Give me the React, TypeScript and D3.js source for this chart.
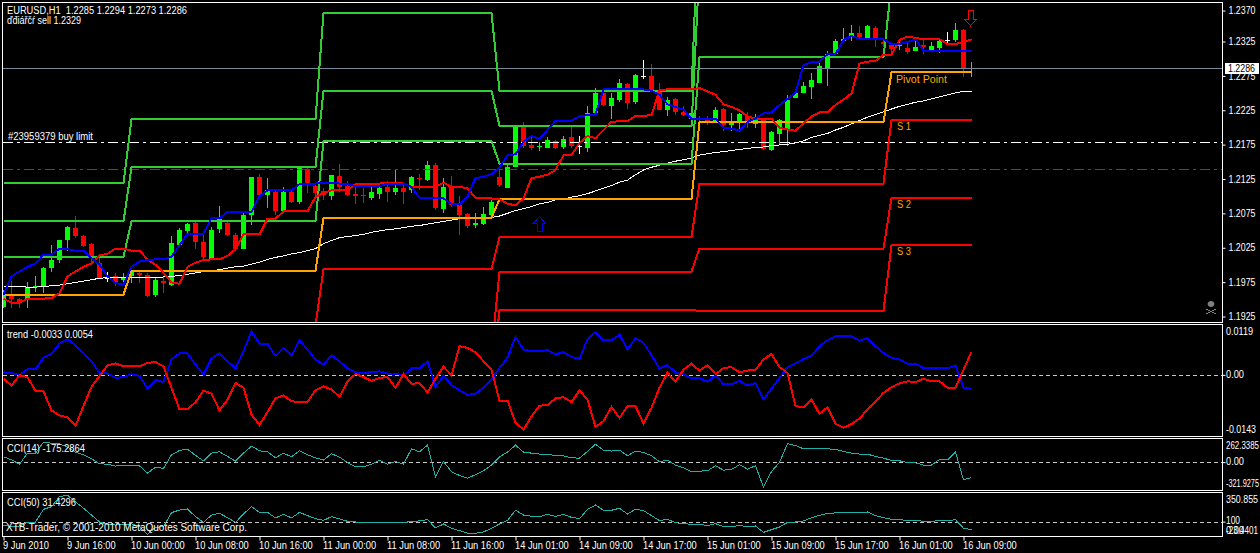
import React, { useEffect, useRef } from "react";
import * as d3 from "d3";

// EURUSD H1, bars
const open = [
  1.1933, 1.1949, 1.1945, 1.1943, 1.1962, 1.1964, 1.199, 1.2002, 1.2032, 1.205,
  1.2038, 1.2026, 1.1997, 1.1976, 1.1979, 1.1972, 1.1978, 1.1983, 1.198, 1.1951,
  1.1971, 1.1965, 1.2024, 1.2045, 1.2056, 1.2029, 1.2003, 1.2048, 1.2057, 1.2039,
  1.2019, 1.2069, 1.2124, 1.2098, 1.2103, 1.2075, 1.2103, 1.2088, 1.2136, 1.2112,
  1.2104, 1.2096, 1.2126, 1.2112, 1.21, 1.2098, 1.2094, 1.21, 1.211, 1.2103,
  1.2108, 1.2105, 1.2123, 1.212, 1.2142, 1.2077, 1.2111, 1.2083, 1.207, 1.2054,
  1.2055, 1.2069, 1.2124, 1.2109, 1.214, 1.2199, 1.2172, 1.2169, 1.2168, 1.2178,
  1.2169, 1.2183, 1.2171, 1.2167, 1.2219, 1.2248, 1.223, 1.2239, 1.2262, 1.2236,
  1.2274, 1.2274, 1.2252, 1.2224, 1.224, 1.2221, 1.221, 1.2211, 1.221, 1.2208,
  1.2225, 1.2201, 1.2206, 1.2215, 1.2203, 1.221, 1.2165, 1.2188, 1.2195, 1.2241,
  1.2248, 1.2258, 1.2264, 1.2285, 1.2307, 1.2326, 1.2333, 1.2338, 1.2329, 1.2345,
  1.2324, 1.2319, 1.2319, 1.2315, 1.2311, 1.232, 1.2312, 1.2315, 1.2327, 1.2327,
  1.2342, 1.2285,
];
const high = [
  1.1958, 1.1971, 1.1946, 1.197, 1.1978, 1.1992, 1.2024, 1.2032, 1.2052, 1.2067,
  1.2039, 1.2027, 1.2007, 1.1985, 1.1983, 1.1983, 1.1987, 1.1984, 1.1983, 1.1975,
  1.1978, 1.2037, 1.2049, 1.2056, 1.2061, 1.2042, 1.2051, 1.2082, 1.2061, 1.2042,
  1.2071, 1.2125, 1.2129, 1.2123, 1.2106, 1.211, 1.2106, 1.2138, 1.2138, 1.2113,
  1.2108, 1.2128, 1.2144, 1.2118, 1.211, 1.2108, 1.211, 1.2113, 1.2118, 1.2136,
  1.2115, 1.2126, 1.2129, 1.2148, 1.2146, 1.2123, 1.2126, 1.2096, 1.2071, 1.2071,
  1.2081, 1.2091, 1.2136, 1.2146, 1.22, 1.2206, 1.2184, 1.2177, 1.2184, 1.2179,
  1.2185, 1.2199, 1.2185, 1.2229, 1.2256, 1.2249, 1.2248, 1.227, 1.2263, 1.2277,
  1.2297, 1.2291, 1.2263, 1.2243, 1.2242, 1.2229, 1.2226, 1.2214, 1.2214, 1.2228,
  1.2226, 1.2219, 1.2219, 1.2221, 1.2218, 1.2211, 1.2192, 1.2211, 1.2246, 1.2251,
  1.2265, 1.2278, 1.2295, 1.231, 1.2329, 1.2344, 1.2349, 1.2347, 1.2349, 1.2347,
  1.2327, 1.2322, 1.2327, 1.2322, 1.2329, 1.2327, 1.2324, 1.2328, 1.2339, 1.2352,
  1.2343, 1.2294,
];
const low = [
  1.1931, 1.1931, 1.1931, 1.1931, 1.1955, 1.1953, 1.1985, 1.1997, 1.2015, 1.2034,
  1.2022, 1.1997, 1.1975, 1.197, 1.1963, 1.1968, 1.1968, 1.1968, 1.1948, 1.1948,
  1.1953, 1.1963, 1.2022, 1.2042, 1.2019, 1.2002, 1.2002, 1.2042, 1.2037, 1.2015,
  1.2018, 1.2054, 1.2096, 1.2079, 1.2069, 1.2071, 1.2086, 1.2085, 1.2101, 1.2096,
  1.2091, 1.2091, 1.2103, 1.2096, 1.2085, 1.2086, 1.2091, 1.2092, 1.2088, 1.2098,
  1.2085, 1.2101, 1.2105, 1.2118, 1.2076, 1.2071, 1.2081, 1.2039, 1.2049, 1.2049,
  1.2054, 1.2066, 1.211, 1.2108, 1.214, 1.2167, 1.2165, 1.2163, 1.2167, 1.2166,
  1.2166, 1.2167, 1.2159, 1.2161, 1.2216, 1.223, 1.2211, 1.2236, 1.2225, 1.2233,
  1.227, 1.2253, 1.2223, 1.2214, 1.2216, 1.2214, 1.2199, 1.2204, 1.2201, 1.2204,
  1.2192, 1.2193, 1.2192, 1.2197, 1.2197, 1.2165, 1.2163, 1.2174, 1.217, 1.2241,
  1.2248, 1.224, 1.2263, 1.2259, 1.2306, 1.2324, 1.2326, 1.2328, 1.2328, 1.2317,
  1.2317, 1.2305, 1.2312, 1.2307, 1.231, 1.2307, 1.231, 1.2308, 1.2322, 1.2324,
  1.2272, 1.2273,
];
const close = [
  1.1952, 1.1945, 1.1939, 1.1962, 1.1963, 1.199, 1.2002, 1.2032, 1.2051, 1.2037,
  1.2023, 1.2007, 1.1976, 1.1976, 1.197, 1.1976, 1.1985, 1.198, 1.1949, 1.1973,
  1.1968, 1.2027, 1.2047, 1.2055, 1.2029, 1.2006, 1.2047, 1.2062, 1.2039, 1.2019,
  1.2069, 1.2124, 1.2098, 1.2106, 1.2075, 1.2103, 1.2088, 1.2138, 1.2116, 1.2101,
  1.2098, 1.2128, 1.211, 1.2098, 1.2096, 1.2096, 1.2103, 1.2109, 1.2102, 1.2109,
  1.2103, 1.2124, 1.2122, 1.2142, 1.2079, 1.211, 1.2083, 1.2069, 1.2052, 1.2057,
  1.207, 1.2088, 1.2113, 1.214, 1.22, 1.2171, 1.2168, 1.2171, 1.2179, 1.2168,
  1.2181, 1.2171, 1.2171, 1.2219, 1.2248, 1.2231, 1.2242, 1.2263, 1.2234, 1.2275,
  1.2274, 1.2253, 1.2224, 1.2239, 1.2221, 1.2216, 1.2219, 1.221, 1.2208, 1.2224,
  1.2201, 1.2206, 1.2218, 1.2208, 1.221, 1.2166, 1.2191, 1.2209, 1.2239, 1.2249,
  1.2259, 1.2268, 1.2289, 1.2307, 1.2326, 1.2329, 1.2338, 1.2331, 1.2347, 1.233,
  1.2321, 1.2314, 1.232, 1.2309, 1.2316, 1.2316, 1.2318, 1.2325, 1.2327, 1.2342,
  1.2285, 1.2286,
];

const fastBlue = [
  1.1951, 1.1978, 1.1985, 1.1992, 1.1997, 1.201, 1.201, 1.2019, 1.2018, 1.2016,
  1.2016, 1.2005, 1.1995, 1.1978, 1.1968, 1.1966, 1.1992, 1.2, 1.2002, 1.2003,
  1.2003, 1.2007, 1.2024, 1.2041, 1.2041, 1.2041, 1.2064, 1.2064, 1.2073, 1.2073,
  1.2073, 1.2073, 1.2096, 1.2105, 1.2105, 1.2105, 1.2105, 1.2114, 1.2115, 1.2115,
  1.2116, 1.2116, 1.2115, 1.2114, 1.2111, 1.2111, 1.2111, 1.2111, 1.2115, 1.2115,
  1.2115, 1.211, 1.2094, 1.2094, 1.2093, 1.2093, 1.2085, 1.2084, 1.2096, 1.2123,
  1.2125, 1.2129, 1.2138, 1.2157, 1.2158, 1.2177, 1.2185, 1.2181, 1.2194, 1.2208,
  1.2208, 1.2208, 1.2214, 1.2216, 1.2217, 1.2254, 1.2254, 1.2254, 1.2254, 1.2254,
  1.2254, 1.2252, 1.2246, 1.2232, 1.2228, 1.2224, 1.2211, 1.2211, 1.2211, 1.2211,
  1.2197, 1.2196, 1.2193, 1.2206, 1.2211, 1.2219, 1.222, 1.2231, 1.224, 1.2249,
  1.229, 1.2294, 1.2295, 1.2306, 1.2306, 1.2327, 1.2333, 1.2329, 1.2328, 1.2328,
  1.2328, 1.2321, 1.2321, 1.2324, 1.2328, 1.2311, 1.2311, 1.2311, 1.2311, 1.2311,
  1.2311, 1.2311,
];
const slowRed = [
  1.1945, 1.1939, 1.1939, 1.1945, 1.1945, 1.1945, 1.1946, 1.1953, 1.1978, 1.1985,
  1.1992, 1.1997, 1.2009, 1.2011, 1.2019, 1.2019, 1.2016, 1.2016, 1.2003, 1.1995,
  1.1983, 1.1969, 1.1967, 1.1992, 1.1998, 1.2002, 1.2003, 1.2003, 1.2008, 1.2018,
  1.204, 1.204, 1.204, 1.2063, 1.2063, 1.2074, 1.2074, 1.2074, 1.2074, 1.2095,
  1.2101, 1.2105, 1.2105, 1.2105, 1.2114, 1.2115, 1.2115, 1.2115, 1.2116, 1.2116,
  1.2115, 1.211, 1.211, 1.211, 1.211, 1.2116, 1.211, 1.211, 1.2108, 1.2094,
  1.2093, 1.2093, 1.2092, 1.2085, 1.2083, 1.2093, 1.2123, 1.2125, 1.2128, 1.2135,
  1.2157, 1.2157, 1.2175, 1.2185, 1.2182, 1.2194, 1.2206, 1.2207, 1.2207, 1.2215,
  1.2215, 1.2216, 1.2253, 1.2254, 1.2254, 1.2254, 1.2254, 1.2256, 1.2251, 1.2246,
  1.2232, 1.2228, 1.2223, 1.2214, 1.2211, 1.2211, 1.2211, 1.2197, 1.2195, 1.2193,
  1.2204, 1.2214, 1.222, 1.222, 1.2231, 1.2239, 1.2248, 1.2292, 1.2295, 1.2296,
  1.2305, 1.2305, 1.2327, 1.2332, 1.233, 1.2328, 1.2328, 1.2328, 1.2321, 1.2321,
  1.2324, 1.2328,
];
const maWhite = [
  1.1963, 1.1963, 1.1963, 1.1962, 1.1962, 1.1963, 1.1964, 1.1965, 1.1967, 1.1969,
  1.1971, 1.1973, 1.1975, 1.1976, 1.1976, 1.1976, 1.1976, 1.1976, 1.1976, 1.1976,
  1.1977, 1.1978, 1.1979, 1.1981, 1.1983, 1.1985, 1.1986, 1.1988, 1.199, 1.1992,
  1.1993, 1.1996, 1.1999, 1.2003, 1.2006, 1.2008, 1.2011, 1.2013, 1.2016, 1.2019,
  1.2026, 1.2031, 1.2035, 1.2037, 1.2038, 1.204, 1.2043, 1.2045, 1.2047, 1.2048,
  1.205, 1.2052, 1.2053, 1.2055, 1.2057, 1.2059, 1.2061, 1.2063, 1.2064, 1.2064,
  1.2064, 1.2065, 1.2067, 1.2071, 1.2075, 1.2078, 1.2081, 1.2085, 1.2087, 1.2091,
  1.2092, 1.2095, 1.2097, 1.21, 1.2104, 1.2108, 1.2112, 1.2117, 1.212, 1.2128,
  1.2135, 1.2139, 1.2142, 1.2145, 1.2148, 1.215, 1.2153, 1.2157, 1.2159, 1.2161,
  1.2162, 1.2164, 1.2165, 1.2167, 1.2168, 1.2169, 1.2171, 1.2172, 1.2173, 1.2175,
  1.2178, 1.2183, 1.2186, 1.2189, 1.2194, 1.2198, 1.2203, 1.2208, 1.2213, 1.2217,
  1.2221, 1.2225, 1.2229, 1.2232, 1.2235, 1.2237, 1.224, 1.2243, 1.2246, 1.2249,
  1.2251, 1.2251,
];

// daily pivot levels, one value per period
const periodStart = [0, 16, 40, 62, 87, 111];
const periodEnd = [15, 39, 61, 86, 110, 121];
const r3 = [1.2116, 1.221, 1.2367, 1.2252, 1.254, 1.27];
const r2 = [1.2059, 1.2139, 1.2252, 1.22, 1.2435, 1.26];
const r1 = [1.2007, 1.2059, 1.2178, 1.2144, 1.2302, 1.2409];
const pivot = [1.1951, 1.1986, 1.2064, 1.2092, 1.2206, 1.2279];
const s1 = [1.185, 1.1906, 1.1989, 1.2036, 1.2115, 1.2209];
const s2 = [1.179, 1.186, 1.1866, 1.1985, 1.2019, 1.2094];
const s3 = [1.174, 1.181, 1.1816, 1.1928, 1.1927, 1.2024];

const trendBlue = [
  0.0006, 0.0004, 0, 0.0013, 0.0013, 0.004, 0.0049, 0.0073, 0.0083, 0.0069,
  0.0051, 0.0032, 0.0005, 0.0003, -0.0007, -0.0005, 0.0001, -0.0002, -0.0032, -0.0012,
  -0.0017, 0.0036, 0.005, 0.005, 0.0024, 0.0001, 0.0038, 0.0051, 0.0032, 0.0015,
  0.0055, 0.0102, 0.0073, 0.0073, 0.0044, 0.0063, 0.0045, 0.0081, 0.0059, 0.0036,
  0.0024, 0.0046, 0.0032, 0.0015, 0.0006, 0.0003, 0.0007, 0.0008, 0.0003, 0.0003,
  -0.0002, 0.0015, 0.0015, 0.0032, -0.0028, -0.0002, -0.0024, -0.0036, -0.0047, -0.0044,
  -0.003, -0.0011, 0.0016, 0.004, 0.0089, 0.0059, 0.0055, 0.0055, 0.0058, 0.0048,
  0.0053, 0.0042, 0.0038, 0.0083, 0.01, 0.0081, 0.0081, 0.0094, 0.0059, 0.0086,
  0.0075, 0.0046, 0.0015, 0.0023, 0.0005, 0.0001, -0.0008, -0.0008, -0.0016, -0.0001,
  -0.0022, -0.0022, -0.0014, -0.0025, -0.0019, -0.0058, -0.0032, -0.0007, 0.0018, 0.0027,
  0.0037, 0.0045, 0.0067, 0.0081, 0.009, 0.009, 0.009, 0.008, 0.0086, 0.0067,
  0.0051, 0.004, 0.0036, 0.0026, 0.0026, 0.0016, 0.0015, 0.0016, 0.0015, 0.0022,
  -0.003, -0.0033,
];
const trendRed = [
  -0.0009, -0.0025, -0.0001, -0.0005, -0.0038, -0.0038, -0.0083, -0.0095, -0.0099, -0.0119,
  -0.0073, -0.0028, -0.0003, 0.0022, 0.0027, 0.002, 0.002, 0.002, 0.0028, 0.003,
  0.002, -0.003, -0.0081, -0.0081, -0.0064, -0.0037, -0.0044, -0.0083, -0.0058, -0.0019,
  -0.003, -0.0093, -0.0117, -0.0087, -0.0055, -0.0048, -0.0062, -0.0063, -0.0063, -0.0036,
  -0.0027, -0.0034, -0.0051, -0.0016, 0.0002, -0.0005, -0.0014, -0.0007, -0.0005, -0.003,
  0.0002, -0.0021, -0.0019, -0.0041, -0.0009, 0.0019, -0.0001, 0.0067, 0.0063, 0.0053,
  0.0032, 0.0012, -0.006, -0.006, -0.0112, -0.0128, -0.0097, -0.0072, -0.0071, -0.0055,
  -0.0052, -0.0064, -0.0036, -0.0058, -0.0122, -0.0108, -0.0075, -0.0101, -0.0073, -0.0073,
  -0.0114, -0.0077, -0.003, 0.0005, -0.0016, 0.0012, 0.0026, 0.001, 0.0023, 0.0002,
  0.0016, 0.0018, 0.0006, 0.001, 0.0012, 0.0036, 0.0049, 0.0018, 0.0005, -0.0073,
  -0.0076, -0.0058, -0.0091, -0.0076, -0.0114, -0.0124, -0.0115, -0.0102, -0.0081, -0.0062,
  -0.0042, -0.0029, -0.002, -0.0015, -0.0017, -0.0009, -0.0015, -0.0015, -0.003, -0.003,
  0.0012, 0.0054,
];
const cci14 = [
  60, 26, -23, 102, 102, 227, 215, 208, 170, 113,
  83, 38, -19, -23, -45, -34, -34, -42, -125, -57,
  -72, 83, 132, 147, 76, 15, 102, 117, 64, 11,
  102, 181, 129, 117, 49, 102, 60, 129, 83, 49,
  23, 95, 57, -4, -53, -53, -23, 19, -23, 8,
  -23, 151, 117, 193, -163, 8, -110, -151, -181, -144,
  -98, -34, 60, 113, 193, 113, 102, 91, 91, 72,
  72, 49, 45, 121, 204, 136, 125, 136, 72, 125,
  110, 72, 4, 23, -34, -64, -110, -102, -98, -42,
  -91, -83, -30, -79, -42, -284, -106, -4, 208, 189,
  151, 159, 155, 151, 144, 121, 102, 91, 91, 64,
  45, 19, 15, -4, -8, -34, -34, 30, 26, 113,
  -200, -175.29,
];
const cci50 = [
  71, 57, 63, 97, 97, 206, 229, 315, 327, 272,
  215, 157, 97, 77, 71, 77, 80, 57, -9, 51,
  57, 177, 200, 209, 143, 94, 157, 172, 134, 94,
  166, 229, 180, 180, 132, 163, 132, 180, 152, 126,
  111, 143, 123, 103, 97, 94, 97, 97, 91, 94,
  91, 103, 106, 117, 46, 80, 43, 23, 0, 0,
  11, 43, 80, 111, 198, 157, 146, 143, 163, 146,
  163, 137, 126, 206, 243, 198, 198, 215, 166, 206,
  195, 152, 109, 120, 91, 83, 77, 77, 66, 83,
  57, 57, 68, 54, 63, 8, 31, 54, 94, 97,
  106, 134, 154, 172, 175, 175, 183, 177, 183, 152,
  134, 120, 117, 111, 111, 103, 103, 109, 109, 117,
  43, 31.43,
];

const priceTicks = [1.237, 1.2325, 1.2275, 1.2225, 1.2175, 1.2125, 1.2075, 1.2025, 1.1975, 1.1925];
const timeTickBars = [0, 8, 16, 24, 32, 40, 48, 56, 64, 72, 80, 88, 96, 104, 112, 120];
const timeTickLabels = [
  "9 Jun 2010", "9 Jun 16:00", "10 Jun 00:00", "10 Jun 08:00", "10 Jun 16:00", "11 Jun 00:00",
  "11 Jun 08:00", "11 Jun 16:00", "14 Jun 01:00", "14 Jun 09:00", "14 Jun 17:00", "15 Jun 01:00",
  "15 Jun 09:00", "15 Jun 17:00", "16 Jun 01:00", "16 Jun 09:00",
];
const lastPrice = 1.2286;
const buyLimit = 1.2179;
const sellLevel = 1.214;

const FONT = "'Liberation Sans', sans-serif";
const GREEN_LEVEL = "#32cd32";
const CANDLE_UP = "#00ff00";
const CANDLE_DOWN = "#ff0000";
const CCI_COLOR = "#20b2aa";

const App: React.FC = () => {
  const svgRef = useRef<SVGSVGElement | null>(null);

  useEffect(() => {
    const svg = d3.select(svgRef.current);
    svg.selectAll("*").remove();

    const x = d3.scaleLinear().domain([0, 121]).range([3.5, 971.5]);
    const y = d3.scaleLinear().domain([1.2386, 1.1912]).range([0, 321]);
    // the labels on the price axis are spaced a little wider than the bars read
    const yAxis = d3.scaleLinear().domain([1.2325, 1.1925]).range([41.5, 316.5]);
    const yTrend = d3.scaleLinear().domain([0.0119, -0.0143]).range([324, 436]);
    const yCci14 = d3.scaleLinear().domain([262.34, -321.93]).range([439, 490.5]);
    const yCci50 = d3.scaleLinear().domain([350.855, -23.44]).range([492.5, 536]);

    // the terminal's bitmap font is narrower than Liberation, so squeeze to its width
    const text = (
      str: string,
      tx: number,
      ty: number,
      width: number,
      fill = "#fff"
    ) =>
      svg
        .append("text")
        .attr("x", tx)
        .attr("y", ty)
        .attr("fill", fill)
        .attr("font-size", 10)
        .attr("font-family", FONT)
        .attr("textLength", width)
        .attr("lengthAdjust", "spacingAndGlyphs")
        .style("white-space", "pre")
        .text(str);

    const clip = (id: string, top: number, bottom: number) =>
      svg
        .append("clipPath")
        .attr("id", id)
        .append("rect")
        .attr("x", 3)
        .attr("y", top)
        .attr("width", 1219)
        .attr("height", bottom - top);

    clip("main-clip", 3, 322);
    clip("trend-clip", 324, 436);
    clip("cci14-clip", 438, 490);
    clip("cci50-clip", 492, 536);

    // ---------- Candles ----------
    const main = svg.append("g").attr("clip-path", "url(#main-clip)");
    const bars = d3.range(open.length);
    const barColor = (i: number) =>
      close[i] === open[i] ? "#fff" : close[i] > open[i] ? CANDLE_UP : CANDLE_DOWN;

    main
      .selectAll("line.wick")
      .data(bars)
      .enter()
      .append("line")
      .attr("x1", (i) => x(i))
      .attr("x2", (i) => x(i))
      .attr("y1", (i) => y(high[i]))
      .attr("y2", (i) => y(low[i]))
      .attr("stroke", barColor)
      .attr("stroke-width", 1)
      .attr("shape-rendering", "crispEdges");

    main
      .selectAll("rect.body")
      .data(bars)
      .enter()
      .append("rect")
      .attr("x", (i) => x(i) - 2.5)
      .attr("width", 5)
      .attr("y", (i) => y(Math.max(open[i], close[i])))
      .attr("height", (i) => Math.max(1, Math.abs(y(open[i]) - y(close[i]))))
      .attr("fill", barColor)
      .attr("shape-rendering", "crispEdges");

    // ---------- Order lines ----------
    const hLine = (lineY: number, color: string, dash?: string) =>
      main
        .append("line")
        .attr("x1", 3)
        .attr("x2", 1222)
        .attr("y1", Math.round(lineY) + 0.5)
        .attr("y2", Math.round(lineY) + 0.5)
        .attr("stroke", color)
        .attr("stroke-dasharray", dash ?? null)
        .attr("shape-rendering", "crispEdges");

    hLine(yAxis(sellLevel), "#ff0000", "10,4,3,4");
    hLine(yAxis(buyLimit), "#ffffff", "10,4,3,4");
    hLine(yAxis(lastPrice), "#778899");

    // ---------- Overlays ----------
    const seriesLine = (scale: d3.ScaleLinear<number, number>) =>
      d3
        .line<number>()
        .x((_, i) => x(i))
        .y((d) => scale(d));

    const drawSeries = (
      parent: d3.Selection<any, unknown, null, undefined>,
      values: number[],
      scale: d3.ScaleLinear<number, number>,
      color: string,
      width: number
    ) =>
      parent
        .append("path")
        .attr("d", seriesLine(scale)(values))
        .attr("fill", "none")
        .attr("stroke", color)
        .attr("stroke-width", width)
        .attr("shape-rendering", "crispEdges");

    // the moving average runs under the pivot levels
    drawSeries(main, maWhite, y, "#ffffff", 1);

    // ---------- Pivot levels ----------
    const levelLine = d3
      .line<[number, number]>()
      .x((d) => x(d[0]))
      .y((d) => y(d[1]));

    const drawLevel = (values: number[], color: string) => {
      const points: [number, number][] = [];
      values.forEach((v, k) => {
        points.push([periodStart[k], v]);
        points.push([periodEnd[k], v]);
      });
      main
        .append("path")
        .attr("d", levelLine(points))
        .attr("fill", "none")
        .attr("stroke", color)
        .attr("stroke-width", 2)
        .attr("shape-rendering", "crispEdges");
    };

    [r3, r2, r1].forEach((v) => drawLevel(v, GREEN_LEVEL));
    drawLevel(pivot, "#ffa500");
    [s1, s2, s3].forEach((v) => drawLevel(v, "#ff0000"));

    drawSeries(main, slowRed, y, "#ff0000", 2);
    drawSeries(main, fastBlue, y, "#0000ff", 2);

    // signal arrows, sitting on their bar and price
    const arrowUp = "M-2.5,7.5 V-1 H-6 L0,-7.5 L6,-1 H2.5 V7.5 Z";
    main
      .append("path")
      .attr("d", arrowUp)
      .attr("transform", `translate(${x(67)},${y(1.2055)})`)
      .attr("fill", "none")
      .attr("stroke", "#0000ff")
      .attr("shape-rendering", "crispEdges");
    main
      .append("path")
      .attr("d", arrowUp)
      .attr("transform", `translate(${x(121) - 1},${y(1.2359)}) rotate(180)`)
      .attr("fill", "none")
      .attr("stroke", "#ff0000")
      .attr("shape-rendering", "crispEdges");

    // skull marker
    const skull = main.append("g").attr("fill", "#808080").attr("stroke", "#808080");
    skull.append("ellipse").attr("cx", 1211).attr("cy", 304).attr("rx", 3).attr("ry", 2.5);
    skull
      .append("path")
      .attr("d", "M1206,309 L1216,314 M1216,309 L1206,314")
      .attr("fill", "none")
      .attr("shape-rendering", "crispEdges");

    // ---------- Sub windows ----------
    const trend = svg.append("g").attr("clip-path", "url(#trend-clip)");
    const cciA = svg.append("g").attr("clip-path", "url(#cci14-clip)");
    const cciB = svg.append("g").attr("clip-path", "url(#cci50-clip)");

    const dashed = (
      parent: d3.Selection<any, unknown, null, undefined>,
      dy: number
    ) =>
      parent
        .append("line")
        .attr("x1", 3)
        .attr("x2", 1222)
        .attr("y1", Math.round(dy) + 0.5)
        .attr("y2", Math.round(dy) + 0.5)
        .attr("stroke", "#c8c8c8")
        .attr("stroke-dasharray", "4,3")
        .attr("shape-rendering", "crispEdges");

    dashed(trend, yTrend(0));
    dashed(cciA, yCci14(0));
    dashed(cciB, yCci50(100));

    drawSeries(trend, trendBlue, yTrend, "#0000ff", 2);
    drawSeries(trend, trendRed, yTrend, "#ff0000", 2);
    drawSeries(cciA, cci14, yCci14, CCI_COLOR, 1);
    drawSeries(cciB, cci50, yCci50, CCI_COLOR, 1);

    // ---------- Frames ----------
    [
      [2, 322],
      [324, 436],
      [438, 490],
      [492, 536],
    ].forEach(([top, bottom]) => {
      svg
        .append("rect")
        .attr("x", 2.5)
        .attr("y", top + 0.5)
        .attr("width", 1220)
        .attr("height", bottom - top)
        .attr("fill", "none")
        .attr("stroke", "#fff")
        .attr("shape-rendering", "crispEdges");
    });

    // ---------- Axes ----------
    const priceAxis = svg.append("g").attr("transform", "translate(1222.5,0)");
    priceAxis.call(
      d3
        .axisRight(yAxis)
        .tickValues(priceTicks)
        .tickSize(3)
        .tickPadding(3)
        .tickFormat((d) => d3.format(".4f")(d as number))
    );
    priceAxis.select(".domain").remove();
    priceAxis.selectAll("line").attr("stroke", "#fff");
    priceAxis
      .selectAll("text")
      .attr("fill", "#fff")
      .attr("font-size", 10)
      .attr("font-family", FONT)
      .attr("textLength", 27)
      .attr("lengthAdjust", "spacingAndGlyphs");

    // small ticks on the indicator scales
    const paneTicks = (scale: d3.ScaleLinear<number, number>, values: number[]) => {
      const g = svg.append("g").attr("transform", "translate(1222.5,0)");
      g.call(d3.axisRight(scale).tickValues(values).tickSize(3).tickFormat(() => ""));
      g.select(".domain").remove();
      g.selectAll("line").attr("stroke", "#fff");
    };
    paneTicks(yTrend, [0]);
    paneTicks(yCci14, [0]);
    paneTicks(yCci50, [100]);

    const timeAxis = svg.append("g").attr("transform", "translate(0,536.5)");
    timeAxis.call(
      d3
        .axisBottom(x)
        .tickValues(timeTickBars)
        .tickSize(4)
        .tickPadding(1)
        .tickFormat((_, i) => timeTickLabels[i])
    );
    timeAxis.select(".domain").remove();
    timeAxis.selectAll("line").attr("stroke", "#fff");
    timeAxis
      .selectAll<SVGTextElement, unknown>("text")
      .attr("fill", "#fff")
      .attr("font-size", 10)
      .attr("font-family", FONT)
      .attr("text-anchor", "start")
      .attr("dx", -1)
      .attr("textLength", function () {
        return this.getComputedTextLength() * 0.93;
      })
      .attr("lengthAdjust", "spacingAndGlyphs");

    // last price tag
    svg
      .append("rect")
      .attr("x", 1225)
      .attr("y", Math.round(yAxis(lastPrice)) - 5)
      .attr("width", 34)
      .attr("height", 11)
      .attr("fill", "#fff")
      .attr("shape-rendering", "crispEdges");
    text(d3.format(".4f")(lastPrice), 1228, yAxis(lastPrice) + 3.5, 27, "#000");

    // ---------- Labels ----------
    text("EURUSD,H1  1.2285 1.2294 1.2273 1.2286", 7, 14, 180);
    text("ďđiářčŕ sell 1.2329", 7, 24, 74);
    text("#23959379 buy limit", 8, 140, 85);
    text("Pivot Point", 896, 83, 51, "#ffa500");
    text("S 1", 897, 130, 14, "#ffa500");
    text("S 2", 897, 208, 14, "#ffa500");
    text("S 3", 897, 255, 14, "#ffa500");
    text("trend -0.0033 0.0054", 7, 338, 86);
    text("CCI(14) -175.2864", 7, 452, 78);
    text("CCI(50) 31.4296", 7, 506, 69);
    text("XTB-Trader, © 2001-2010 MetaQuotes Software Corp.", 6, 531, 241);

    text("0.0119", 1226, 335, 27);
    text("0.00", 1226, 378, 18);
    text("-0.0143", 1226, 433, 30);
    text("262.3385", 1226, 449, 33);
    text("0.00", 1226, 465, 18);
    text("-321.9275", 1226, 487, 33);
    text("350.855", 1226, 503, 32);
    text("100", 1226, 524, 14);
    text("0.00", 1226, 534, 18);
    text("-23.4401", 1226, 534, 32);
  }, []);

  return (
    <svg
      ref={svgRef}
      width={1260}
      height={553}
      style={{ position: "fixed", left: 0, top: 0, background: "#000", display: "block" }}
    />
  );
};

export default App;
